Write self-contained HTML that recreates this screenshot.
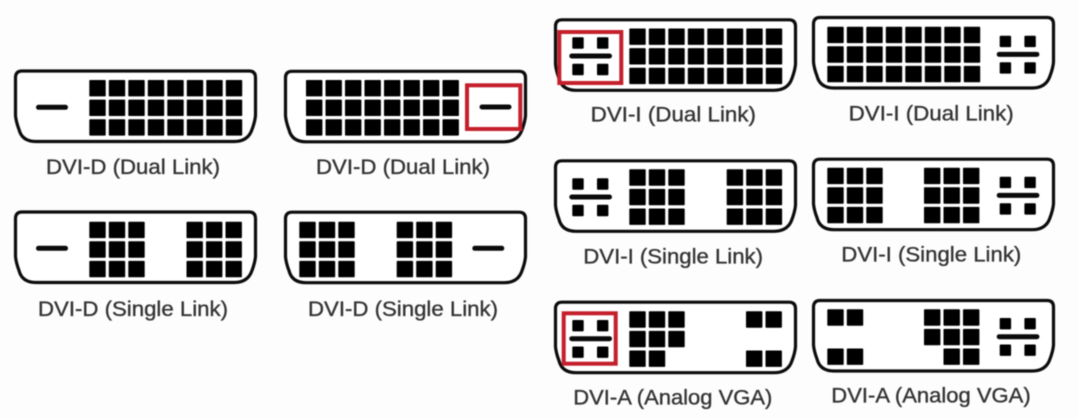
<!DOCTYPE html>
<html>
<head>
<meta charset="utf-8">
<style>
html,body{margin:0;padding:0;background:#fdfdfd;width:1078px;height:419px;overflow:hidden}
svg{display:block;filter:blur(.55px)}
text{font-family:"Liberation Sans",sans-serif;font-size:21px;fill:#333;stroke:#333;stroke-width:.35px}
</style>
</head>
<body>
<svg width="1078" height="419" viewBox="0 0 1078 419" xmlns="http://www.w3.org/2000/svg">
<defs>
<path id="shell" d="M8,1.5 H235 Q241.5,1.5 241.5,8 V46 Q241,52 238,60 Q234,72 220,72 H22 Q8,72 5,60 Q2,52 1.5,46 V8 Q1.5,1.5 8,1.5Z" fill="#fff" stroke="#0c0c0c" stroke-width="3.2"/>
<rect id="p" width="16.4" height="16.4" rx=".8" fill="#000"/>
<g id="c3"><use href="#p" y="0"/><use href="#p" y="19.6"/><use href="#p" y="39.2"/></g>
<g id="b3"><use href="#c3" x="0"/><use href="#c3" x="19.5"/><use href="#c3" x="39"/></g>
<g id="b8"><use href="#b3" x="0"/><use href="#b3" x="58.5"/><use href="#c3" x="117"/><use href="#c3" x="136.5"/></g>
<rect id="bar" width="32" height="5" rx="2.5" fill="#0a0a0a"/>
<g id="an" fill="#000">
<rect x="3" y="0" width="11.4" height="11.4" rx="1"/>
<rect x="27.7" y="0" width="11.4" height="11.4" rx="1"/>
<rect x="3" y="26.5" width="11.4" height="11.4" rx="1"/>
<rect x="27.7" y="26.5" width="11.4" height="11.4" rx="1"/>
<rect x="0" y="16.2" width="42.7" height="5" rx="2.5" fill="#0a0a0a"/>
</g>
</defs>

<!-- DVI-D dual left -->
<use href="#shell" x="14" y="69.5"/>
<use href="#bar" x="36" y="104.8"/>
<use href="#b8" x="89.3" y="80"/>
<text x="46" y="174" textLength="174" lengthAdjust="spacingAndGlyphs">DVI-D (Dual Link)</text>

<!-- DVI-D dual right -->
<use href="#shell" x="284" y="69.8"/>
<use href="#b8" x="306" y="80"/>
<use href="#bar" x="479.5" y="104.5"/>
<rect x="467" y="85.3" width="53.3" height="43.7" fill="none" stroke="#c41f2b" stroke-width="4"/>
<text x="316" y="174" textLength="174" lengthAdjust="spacingAndGlyphs">DVI-D (Dual Link)</text>

<!-- DVI-D single left -->
<use href="#shell" x="14" y="210.5"/>
<use href="#bar" x="36" y="245.8"/>
<use href="#b3" x="89.3" y="221.7"/>
<use href="#b3" x="186.5" y="221.7"/>
<text x="38" y="316" textLength="190" lengthAdjust="spacingAndGlyphs">DVI-D (Single Link)</text>

<!-- DVI-D single right -->
<use href="#shell" x="284" y="210.7"/>
<use href="#b3" x="299.3" y="221.7"/>
<use href="#b3" x="396.7" y="221.7"/>
<use href="#bar" x="472.3" y="245.8"/>
<text x="308" y="316" textLength="190" lengthAdjust="spacingAndGlyphs">DVI-D (Single Link)</text>

<!-- DVI-I dual left -->
<use href="#shell" x="554" y="18.3"/>
<use href="#b8" x="629.3" y="28.5"/>
<use href="#an" x="569.3" y="37.3"/>
<rect x="559.3" y="32" width="62" height="51" fill="none" stroke="#c41f2b" stroke-width="4"/>
<text x="590.7" y="121.7" textLength="165.3" lengthAdjust="spacingAndGlyphs">DVI-I (Dual Link)</text>

<!-- DVI-I dual right -->
<use href="#shell" x="812" y="16"/>
<use href="#b8" x="827.3" y="26.7"/>
<use href="#an" x="996.7" y="35.7"/>
<text x="848.7" y="120.7" textLength="165" lengthAdjust="spacingAndGlyphs">DVI-I (Dual Link)</text>

<!-- DVI-I single left -->
<use href="#shell" x="554" y="159.3"/>
<use href="#an" x="569.3" y="178.3"/>
<use href="#b3" x="629.3" y="169.3"/>
<use href="#b3" x="726.7" y="169.3"/>
<text x="583.3" y="263.3" textLength="179.7" lengthAdjust="spacingAndGlyphs">DVI-I (Single Link)</text>

<!-- DVI-I single right -->
<use href="#shell" x="812" y="157.7"/>
<use href="#b3" x="827.3" y="167.7"/>
<use href="#b3" x="924" y="167.7"/>
<use href="#an" x="996.7" y="176.7"/>
<text x="841.3" y="261.7" textLength="180" lengthAdjust="spacingAndGlyphs">DVI-I (Single Link)</text>

<!-- DVI-A left -->
<use href="#shell" x="554" y="300.7"/>
<use href="#an" x="569.3" y="320"/>
<use href="#c3" x="629.3" y="311.3"/>
<use href="#c3" x="648.8" y="311.3"/>
<use href="#p" x="668.3" y="311.3"/>
<use href="#p" x="668.3" y="330.9"/>
<use href="#p" x="746" y="311.3"/>
<use href="#p" x="765.5" y="311.3"/>
<use href="#p" x="746" y="350.5"/>
<use href="#p" x="765.5" y="350.5"/>
<rect x="563.7" y="313.3" width="52" height="50.4" fill="none" stroke="#c41f2b" stroke-width="4"/>
<text x="573.3" y="404.7" textLength="199" lengthAdjust="spacingAndGlyphs">DVI-A (Analog VGA)</text>

<!-- DVI-A right -->
<use href="#shell" x="812" y="299"/>
<use href="#p" x="827.3" y="309.3"/>
<use href="#p" x="846.8" y="309.3"/>
<use href="#p" x="827.3" y="348.5"/>
<use href="#p" x="846.8" y="348.5"/>
<use href="#p" x="924" y="309.3"/>
<use href="#p" x="924" y="328.9"/>
<use href="#c3" x="943.5" y="309.3"/>
<use href="#c3" x="963" y="309.3"/>
<use href="#an" x="996.7" y="318"/>
<text x="831.3" y="402.3" textLength="199.4" lengthAdjust="spacingAndGlyphs">DVI-A (Analog VGA)</text>
</svg>
</body>
</html>
